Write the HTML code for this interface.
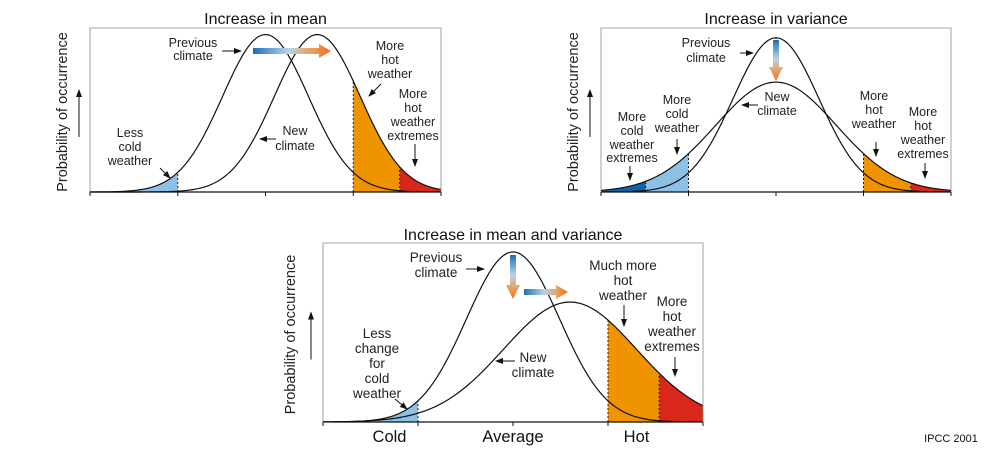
<!DOCTYPE html>
<html><head><meta charset="utf-8"><style>
html,body{margin:0;padding:0;background:#fff;}
svg{display:block;font-family:"Liberation Sans",Arial,sans-serif;}
.t{font-size:12.5px;fill:#222;text-anchor:middle;}
.t3{font-size:13.5px;fill:#222;text-anchor:middle;}
.title{font-size:16px;fill:#111;text-anchor:middle;}
.yl{font-size:14.5px;fill:#222;text-anchor:middle;}
</style></head><body>
<svg id="fig" width="995" height="453" viewBox="0 0 995 453">
<defs>
<linearGradient id="gh" x1="0" x2="1" y1="0" y2="0"><stop offset="0" stop-color="#1a6fb5"/><stop offset="0.45" stop-color="#b8d3e6"/><stop offset="0.75" stop-color="#e9a060"/><stop offset="1" stop-color="#f26b1d"/></linearGradient>
<linearGradient id="gv" x1="0" x2="0" y1="0" y2="1"><stop offset="0" stop-color="#1a6fb5"/><stop offset="0.45" stop-color="#b8d3e6"/><stop offset="0.75" stop-color="#e9a060"/><stop offset="1" stop-color="#f26b1d"/></linearGradient>
<marker id="ah" markerWidth="8" markerHeight="8" refX="7" refY="4" orient="auto" markerUnits="userSpaceOnUse"><path d="M0,1 L8,4 L0,7 Z" fill="#111"/></marker>
</defs>
<g id="charts"></g>
<text x="951" y="442" style="font-size:11px;fill:#111" text-anchor="middle">IPCC 2001</text>
</svg>
<script>
// Panel data (x in climate units 0..4, y relative probability)
const panelTitles = ["Increase in mean", "Increase in variance", "Increase in mean and variance"];
const prevMeans = [2.0, 2.0, 2.0];
const prevSds = [0.49, 0.49, 0.49];
const prevPeaks = [0.96, 0.94, 0.95];
const newMeans = [2.59, 2.0, 2.6];
const newSds = [0.49, 0.69, 0.70];
const newPeaks = [0.96, 0.67, 0.67];
const xTickValues = [0, 1, 2, 3, 4];
const xTickLabels = ["Cold", "Average", "Hot"];
const xTickLabelPos = [0.7, 2, 3.3];
// shaded regions
const regionPanels = [0, 0, 0, 1, 1, 1, 1, 2, 2, 2];
const regionCurves = ["prev", "new", "new", "new", "new", "new", "new", "prev", "new", "new"];
const regionFrom = [0, 3, 3.53, 0, 0.51, 3, 3.54, 0, 3, 3.54];
const regionTo = [1, 3.53, 4, 0.51, 1, 3.54, 4, 1, 3.54, 4];
const regionColors = ["#8cc0e4", "#ef9300", "#d9271c", "#0f63a6", "#8cc0e4", "#ef9300", "#d9271c", "#8cc0e4", "#ef9300", "#d9271c"];

const boxes = [
  {x0: 90, x1: 441, y0: 28, y1: 192, yl: 62, arrowX: 79, ty: 24},
  {x0: 601, x1: 951, y0: 28, y1: 192, yl: 573, arrowX: 590, ty: 24},
  {x0: 323, x1: 703, y0: 243, y1: 422, yl: 290, arrowX: 311, ty: 240}
];
const NS = "http://www.w3.org/2000/svg";
const root = document.getElementById("charts");
function mk(tag, attrs, parent) {
  const e = document.createElementNS(NS, tag);
  for (const k in attrs) e.setAttribute(k, attrs[k]);
  (parent || root).appendChild(e);
  return e;
}
function gauss(x, m, s, p) { return p * Math.exp(-((x - m) * (x - m)) / (2 * s * s)); }
function xs(b, v) { return b.x0 + (v / 4) * (b.x1 - b.x0); }
function ys(b, v) { return b.y1 - (v / 1.0) * (b.y1 - b.y0); }
function curveVal(i, which, x) {
  return which === "prev" ? gauss(x, prevMeans[i], prevSds[i], prevPeaks[i]) : gauss(x, newMeans[i], newSds[i], newPeaks[i]);
}

boxes.forEach((b, i) => {
  const g = mk("g", {});
  
  
  regionPanels.forEach((p, r) => {
    if (p !== i) return;
    let d = "M" + xs(b, regionFrom[r]) + "," + b.y1;
    for (let k = 0; k <= 40; k++) {
      const x = regionFrom[r] + (regionTo[r] - regionFrom[r]) * k / 40;
      d += " L" + xs(b, x).toFixed(2) + "," + ys(b, curveVal(i, regionCurves[r], x)).toFixed(2);
    }
    d += " L" + xs(b, regionTo[r]) + "," + b.y1 + " Z";
    const el = mk("path", {d: d, fill: regionColors[r]}, g);
    
    
    [regionFrom[r], regionTo[r]].forEach(xe => {
      if (xe <= 0 || xe >= 4) return;
      const dl = mk("line", {x1: xs(b, xe), x2: xs(b, xe), y1: b.y1, y2: ys(b, curveVal(i, regionCurves[r], xe)), stroke: "#222", "stroke-width": 1, "stroke-dasharray": "2,2"}, g);
      
      
    });
  });
  ["prev", "new"].forEach(w => {
    let d = "";
    for (let k = 0; k <= 200; k++) {
      const x = 4 * k / 200;
      d += (k ? " L" : "M") + xs(b, x).toFixed(2) + "," + ys(b, curveVal(i, w, x)).toFixed(2);
    }
    const c = mk("path", {d: d, fill: "none", stroke: "#111", "stroke-width": 1.2}, g);
    
    
  });
  const bx = mk("path", {d: "M" + b.x0 + "," + b.y1 + " L" + b.x0 + "," + b.y0 + " L" + b.x1 + "," + b.y0 + " L" + b.x1 + "," + b.y1, fill: "none", stroke: "#888", "stroke-width": 0.8}, g);
  
  
  const ax = mk("line", {x1: b.x0, x2: b.x1, y1: b.y1, y2: b.y1, stroke: "#111", "stroke-width": 1.3}, g);
  
  
  xTickValues.forEach(v => {
    const t = mk("line", {x1: xs(b, v), x2: xs(b, v), y1: b.y1, y2: b.y1 + 4, stroke: "#111", "stroke-width": 1}, g);
    
    
  });
  const tt = mk("text", {x: (b.x0 + b.x1) / 2, y: b.ty, class: "title"}, g);
  tt.textContent = panelTitles[i];
  
  
  const cy = (b.y0 + b.y1) / 2 + 2;
  const yl = mk("text", {x: b.yl, y: cy, class: "yl", transform: "rotate(-90 " + b.yl + " " + cy + ")", dy: "5"}, g);
  yl.textContent = "Probability of occurrence";
  
  
  const ya = mk("line", {x1: b.arrowX, x2: b.arrowX, y1: cy + 25, y2: cy - 22, stroke: "#111", "stroke-width": 1, "marker-end": "url(#ah)"}, g);
  
  
});
xTickLabels.forEach((lab, k) => {
  const b = boxes[2];
  const t = mk("text", {x: xs(b, xTickLabelPos[k]), y: 442, "font-size": "16.5", fill: "#111", "text-anchor": "middle"});
  t.textContent = lab;
  
  
});

function label(lines, cx, ys0, cls, name) {
  const t = mk("text", {class: cls});
  lines.forEach((l, k) => { const s = mk("tspan", {x: cx, y: ys0[k]}, t); s.textContent = l; });
  
  
}
function arrow(x1, y1, x2, y2, name) {
  const a = mk("line", {x1: x1, y1: y1, x2: x2, y2: y2, stroke: "#111", "stroke-width": 1, "marker-end": "url(#ah)"});
  
  
}
function gArrowH(x1, x2, y, name) {
  const d = "M" + x1 + "," + (y - 3) + " L" + (x2 - 12) + "," + (y - 3) + " L" + (x2 - 12) + "," + (y - 7) + " L" + x2 + "," + y + " L" + (x2 - 12) + "," + (y + 7) + " L" + (x2 - 12) + "," + (y + 3) + " L" + x1 + "," + (y + 3) + " Z";
  const a = mk("path", {d: d, fill: "url(#gh)"});
  
  
}
function gArrowV(x, y1, y2, name) {
  const d = "M" + (x - 3) + "," + y1 + " L" + (x - 3) + "," + (y2 - 14) + " L" + (x - 7) + "," + (y2 - 14) + " L" + x + "," + y2 + " L" + (x + 7) + "," + (y2 - 14) + " L" + (x + 3) + "," + (y2 - 14) + " L" + (x + 3) + "," + y1 + " Z";
  const a = mk("path", {d: d, fill: "url(#gv)"});
  
  
}
// panel 1
label(["Previous", "climate"], 193, [47, 60], "t", "previous-climate-label");
arrow(222, 51, 241, 51, "previous-climate-pointer");
gArrowH(253, 331, 51, "mean-shift-arrow");
label(["More", "hot", "weather"], 390, [50, 64, 78], "t", "more-hot-weather-label");
arrow(381, 84, 369, 96, "more-hot-weather-pointer");
label(["More", "hot", "weather", "extremes"], 413, [98, 112, 126, 140], "t", "hot-extremes-label");
arrow(415, 144, 415, 166, "hot-extremes-pointer");
label(["New", "climate"], 295, [135, 150], "t", "new-climate-label");
arrow(276, 139, 260, 139, "new-climate-pointer");
label(["Less", "cold", "weather"], 130, [137, 151, 165], "t", "less-cold-weather-label");
arrow(160, 168, 170, 178, "less-cold-pointer");
// panel 2
label(["Previous", "climate"], 706, [47, 62], "t", "previous-climate-label");
arrow(740, 53, 753, 53, "previous-climate-pointer");
gArrowV(776, 40, 81, "variance-arrow");
label(["New", "climate"], 777, [101, 115], "t", "new-climate-label");
arrow(758, 105, 742, 105, "new-climate-pointer");
label(["More", "cold", "weather"], 677, [104, 118, 132], "t", "more-cold-weather-label");
arrow(677, 139, 677, 154, "more-cold-pointer");
label(["More", "cold", "weather", "extremes"], 632, [121, 135, 149, 162], "t", "cold-extremes-label");
arrow(630, 166, 630, 180, "cold-extremes-pointer");
label(["More", "hot", "weather"], 874, [100, 114, 128], "t", "more-hot-weather-label");
arrow(876, 142, 876, 156, "more-hot-pointer");
label(["More", "hot", "weather", "extremes"], 923, [116, 130, 144, 158], "t", "hot-extremes-label");
arrow(925, 163, 925, 178, "hot-extremes-pointer");
// panel 3
label(["Previous", "climate"], 436, [262, 277], "t3", "previous-climate-label");
arrow(466, 269, 484, 269, "previous-climate-pointer");
gArrowV(513, 255, 299, "variance-arrow");
gArrowH(524, 568, 292, "mean-shift-arrow");
label(["Much more", "hot", "weather"], 623, [270, 285, 300], "t3", "much-more-hot-label");
arrow(624, 305, 624, 326, "much-more-hot-pointer");
label(["More", "hot", "weather", "extremes"], 672, [306, 321, 336, 351], "t3", "hot-extremes-label");
arrow(675, 357, 675, 376, "hot-extremes-pointer");
label(["New", "climate"], 533, [362, 377], "t3", "new-climate-label");
arrow(515, 361, 496, 361, "new-climate-pointer");
label(["Less", "change", "for", "cold", "weather"], 377, [338, 353, 368, 383, 398], "t3", "less-change-cold-label");
arrow(395, 399, 407, 409, "less-change-pointer");
</script>
</body></html>
